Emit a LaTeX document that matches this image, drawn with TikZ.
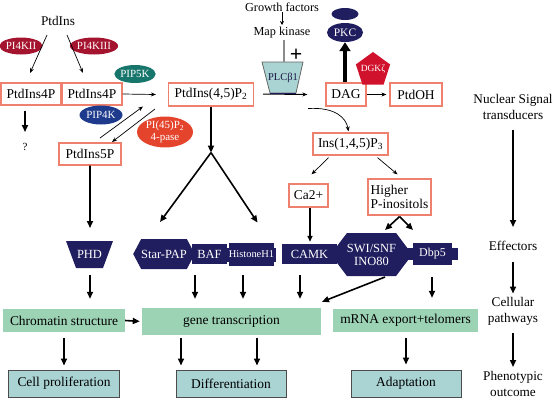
\documentclass[tikz,border=0pt]{standalone}
\usepackage{fontspec}
\setmainfont{Liberation Serif}
\usetikzlibrary{shapes.geometric,shapes.symbols,arrows.meta,calc}
\definecolor{navy}{HTML}{201E5E}
\definecolor{salm}{HTML}{F0806E}
\definecolor{grn}{HTML}{9DD3B5}
\definecolor{bgray}{HTML}{AAD3D3}
\definecolor{crim}{HTML}{A5142F}
\definecolor{teal5}{HTML}{17766C}
\definecolor{blu4}{HTML}{1E3A8C}
\definecolor{pase}{HTML}{E4442B}
\definecolor{dgk}{HTML}{D0122C}
\begin{document}
\begin{tikzpicture}[x=1bp,y=-1bp,
  txt/.style={font=\fontsize{13.3}{16}\selectfont, inner sep=0, align=center},
  rbox/.style={draw=salm, line width=1.2bp, fill=white, font=\fontsize{13.5}{14}\selectfont, inner sep=0, minimum height=22bp},
  ell/.style={ellipse, inner sep=0, text=white, font=\fontsize{11}{11}\selectfont, align=center},
  eff/.style={fill=navy, text=white, inner sep=0, font=\fontsize{12.5}{13}\selectfont, align=center},
  gbox/.style={fill=grn, inner sep=0, font=\fontsize{13.5}{14}\selectfont},
  obox/.style={fill=bgray, draw=black!70, line width=1bp, inner sep=0, minimum height=27bp, font=\fontsize{13.5}{14}\selectfont},
  thin/.style={line width=0.7bp, -{Stealth[length=5bp,width=4bp]}},
  thk/.style={line width=1.6bp, -{Triangle[length=7bp,width=6bp]}}
]
\useasboundingbox (0,0) rectangle (553,400);

% ---- top left cascade
\node[txt] (ptdins) at (58,21) {PtdIns};
\node[ell, fill=crim, minimum width=39bp, minimum height=17bp] (pi4kii) at (21,46) {PI4KII};
\node[ell, fill=crim, minimum width=39bp, minimum height=17bp] (pi4kiii) at (94,46) {PI4KIII};
\node[rbox, minimum width=60bp] (p4a) at (31,94) {PtdIns4P};
\node[rbox, minimum width=60bp] (p4b) at (92,94) {PtdIns4P};
\node[ell, fill=teal5, minimum width=39bp, minimum height=18bp] (pip5k) at (135,74) {PIP5K};
\node[rbox, minimum width=85bp, minimum height=23bp] (pip2) at (211,94.5) {PtdIns(4,5)P\textsubscript{2}};
\node[ell, fill=blu4, minimum width=43bp, minimum height=19bp] (pip4k) at (101,115) {PIP4K};
\node[ell, fill=pase, minimum width=56bp, minimum height=30bp, font=\fontsize{11}{12}\selectfont] (pase) at (165,132) {PI(45)P\textsubscript{2}\\4-pase};
\node[rbox, minimum width=62bp] (p5p) at (90,154) {PtdIns5P};
\node[txt, font=\fontsize{11}{12}\selectfont] (q) at (25,147) {?};

\draw[thin] ($(ptdins)+(-11,14)$) -- ($(p4a)+(-1,-21)$);
\draw[thin] ($(ptdins)+(9,14)$) -- ($(p4b)+(-9,-21)$);
\draw[thk] ($(p4a.south)+(-6,5)$) -- ($(q)+(0,-15)$);
\draw[thin] (p4b.east) -- ($(pip2.west)+(-12,0)$);
\draw[thin] ($(p5p)+(10,-16)$) -- ($(pip2)+(-68,12)$);
\draw[thin] ($(pip2)+(-56,14.5)$) -- ($(p5p)+(22,-12)$);

% ---- PLC / DAG
\node[txt, font=\fontsize{12.3}{13}\selectfont] (gf) at (282,7) {Growth factors};
\node[txt, font=\fontsize{12.3}{13}\selectfont] (mk) at (282,33) {Map kinase};
\fill[bgray, draw=black!60, line width=0.8bp] (262,62) -- (303,62) -- (296,93) -- (270,93) -- cycle;
\node[txt, font=\fontsize{10.5}{11}\selectfont, text=navy!70!black, minimum width=30bp, minimum height=31bp] (plc) at (283,77.5) {PLCβ1};
\node[txt, font=\fontsize{22}{22}\bfseries] (plus) at (296,55) {+};
\draw[line width=0.7bp, -{Stealth[length=4bp,width=4bp]}] ($(gf)+(0,5)$) -- ($(mk)+(0,-8)$);
\draw[black!45, line width=1.2bp] ($(mk)+(2,7)$) -- ($(plc)+(1,-15.5)$);

\node[rbox, minimum width=40bp, minimum height=23bp] (dag) at (346,94.5) {DAG};
\node[rbox, minimum width=52bp, minimum height=23bp] (ptdoh) at (416,94.5) {PtdOH};
\node[ellipse, fill=navy, minimum width=27bp, minimum height=12bp, inner sep=0] (pkctop) at (345,14) {};
\node[ellipse, fill=navy, minimum width=36bp, minimum height=19bp, inner sep=0, text=white, font=\fontsize{11.5}{12}\selectfont] (pkc) at (345,32.5) {PKC};
\node[regular polygon, regular polygon sides=5, fill=dgk, minimum size=36bp, inner sep=0] (dgk) at (373,70) {};
\node[txt, text=white, font=\fontsize{9.5}{10}\selectfont] (dgkt) at (373,69) {DGKζ};

\draw[line width=1bp, -{Stealth[length=5bp,width=4bp]}] ($(plc)+(-20,16.5)$) -- ($(dag.west)+(-18,0)$);
\draw[line width=0.6bp, navy] ($(plc)+(-13,16)$) -- ($(plc)+(13,16)$);
\draw[line width=4.5bp, -{Triangle[length=9bp,width=11bp]}] ($(dag.north)+(-1,0)$) -- (pkc.south);
\draw[thin] (dag.east) -- ($(ptdoh.west)+(-3,0)$);

\node[rbox, minimum width=75bp] (ins) at (350.5,144) {Ins(1,4,5)P\textsubscript{3}};
\draw[thin] ($(pip2)+(97,14)$) .. controls ($(pip2)+(124,12.5)$) and ($(ins.north)+(-4.5,-15)$) .. ($(ins.north)+(-2,-1)$);
\node[rbox, minimum width=39bp, minimum height=23bp] (ca) at (308.5,195.5) {Ca2+};
\node[rbox, minimum width=63bp, minimum height=36bp, align=left] (hpi) at (399.5,197) {Higher\\P-inositols};
\draw[thin] ($(ins.south)+(-22,2)$) -- ($(ca.north)+(3,-9)$);
\draw[thin] ($(ins.south)+(27,2)$) -- ($(hpi.north)+(-2,-4)$);

% ---- effectors
\fill[navy] (66,241) -- (113,241) -- (103,268) -- (76,268) -- cycle;
\node[txt, text=white, font=\fontsize{12.5}{13}\selectfont, minimum width=47bp, minimum height=27bp] (phd) at (89.5,254.5) {PHD};
\node[eff, signal, signal to=east and west, signal pointer angle=124, minimum width=54bp, minimum height=30bp] (star) at (164,254) {Star-PAP};
\node[eff, minimum width=35bp, minimum height=20bp] (baf) at (209.5,254) {BAF};
\fill[navy] (227,247.5) rectangle (276,262);
\node[eff, minimum width=43bp, minimum height=23bp, font=\fontsize{10.5}{11}\selectfont] (hist) at (251.5,254.5) {HistoneH1};
\node[eff, minimum width=55bp, minimum height=20bp] (camk) at (309.5,254) {CAMK};
\node[eff, signal, signal to=east and west, signal pointer angle=106, minimum width=65bp, minimum height=43bp] (swi) at (371.5,254.5) {SWI/SNF\\INO80};
\fill[navy] (407,248) rectangle (458,260);
\node[eff, minimum width=39bp, minimum height=22bp, font=\fontsize{12}{12}\selectfont] (dbp) at (432.5,254) {Dbp5};

\draw[thk] (p5p.south) -- ($(phd)+(0.5,-26.5)$);
\coordinate (apex) at ($(pip2.south)+(0,46)$);
\draw[thk] (pip2.south) -- (apex);
\draw[thk] (apex) -- ($(star)+(-4,-32)$);
\draw[thk] (apex) -- ($(hist)+(6,-32)$);
\draw[line width=1.4bp, -{Triangle[length=6bp,width=5bp]}] ($(ca.south)+(1.5,0)$) -- ($(camk.north)+(0.5,-2)$);
\coordinate (apex2) at ($(hpi.south)+(0,1)$);
\draw[thk] (apex2) -- ($(swi)+(13.5,-24.5)$);
\draw[thk] (apex2) -- ($(dbp)+(-19.5,-24)$);

% ---- cellular pathways
\node[gbox, minimum width=122bp, minimum height=23bp] (chrom) at (64,320.5) {Chromatin structure};
\node[gbox, minimum width=179bp, minimum height=27bp] (gene) at (231.5,321.5) {gene transcription};
\node[gbox, minimum width=145bp, minimum height=23bp] (mrna) at (405.5,320.5) {mRNA export+telomers};

\draw[thk] ($(phd)+(0.5,20.5)$) -- ($(chrom.north)+(26,-10)$);
\draw[thk] ($(baf)+(-14.5,21)$) -- ($(gene.north)+(-36.5,-9)$);
\draw[thk] ($(hist)+(-8.5,20.5)$) -- ($(gene.north)+(11.5,-9)$);
\draw[thk] ($(camk)+(-9.5,21)$) -- ($(gene.north)+(68.5,-9)$);
\draw[thk] ($(swi)+(13.5,22.5)$) -- ($(gene.north)+(90.5,-6)$);
\draw[thk] ($(dbp)+(-0.5,23)$) -- ($(mrna.north)+(26.5,-11)$);
\draw[thk, shorten >=2bp] (chrom.east) -- (gene.west);

% ---- outcomes
\node[obox, minimum width=110bp] (cellp) at (64,383.5) {Cell proliferation};
\node[obox, minimum width=110bp] (diff) at (231,383.5) {Differentiation};
\node[obox, minimum width=110bp] (adapt) at (406,383.5) {Adaptation};
\draw[thk] ($(chrom.south)+(0,6)$) -- ($(cellp.north)+(0,-4)$);
\draw[thk] ($(gene.south)+(-50.5,3)$) -- ($(diff.north)+(-50,-4)$);
\draw[thk] ($(gene.south)+(25.5,3)$) -- ($(diff.north)+(26,-4)$);
\draw[thk] ($(mrna.south)+(0.5,6)$) -- ($(adapt.north)+(0,-5)$);

% ---- right column
\node[txt] (ns) at (513,107) {Nuclear Signal\\transducers};
\node[txt] (eff) at (513,246) {Effectors};
\node[txt] (cp) at (513,311.5) {Cellular\\pathways};
\node[txt] (po) at (513,384) {Phenotypic\\outcome};
\draw[thk] ($(ns)+(0,23)$) -- ($(eff)+(0,-19)$);
\draw[thk] ($(eff)+(0,16)$) -- ($(cp)+(0,-18)$);
\draw[thk] ($(cp)+(0,21.5)$) -- ($(po)+(0,-17)$);
\end{tikzpicture}
\end{document}
